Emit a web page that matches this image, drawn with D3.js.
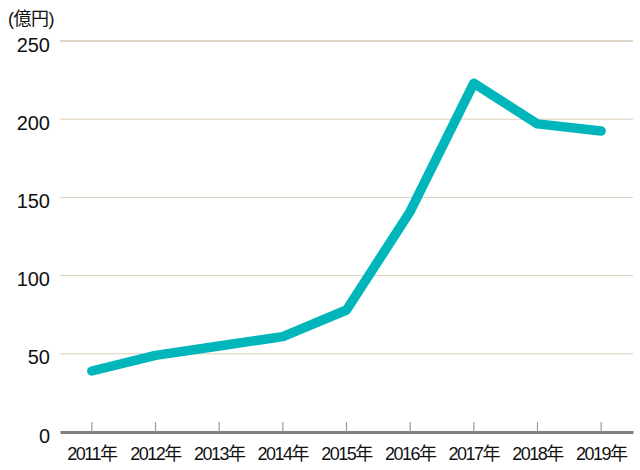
<!DOCTYPE html>
<html><head><meta charset="utf-8">
<script src="https://cdn.jsdelivr.net/npm/d3@7"></script>
<style>body{margin:0;background:#fff}svg{display:block}</style>
</head><body><svg id="c" width="640" height="470"></svg>
<script>
const years = ["2011年","2012年","2013年","2014年","2015年","2016年","2017年","2018年","2019年"];
const values = [39, 49, 55, 61, 78, 141, 223, 197, 192.5];
const yTicks = [0, 50, 100, 150, 200, 250];
const unitLabel = "(億円)";

const svg = d3.select("#c");
const x = d3.scaleBand().domain(years).range([60, 633]);
const y = d3.scaleLinear().domain([0, 250]).range([432, 41]);
const font = "'Liberation Sans', Arial, 'Noto Sans CJK JP', sans-serif";

// grid
svg.append("g").selectAll("line").data(yTicks.filter(d => d > 0)).join("line")
  .attr("x1", 60).attr("x2", 633)
  .attr("y1", d => y(d)).attr("y2", d => y(d))
  .attr("stroke", d => d === 250 ? "#bcab90" : "#dccfbb").attr("stroke-width", 1);

// y labels
svg.append("g").selectAll("text").data(yTicks).join("text")
  .attr("x", 50).attr("y", d => y(d)).attr("dy", "0.53em")
  .attr("text-anchor", "end").attr("font-family", font).attr("font-size", 20)
  .attr("fill", "#111").text(d => d);

svg.append("text").attr("x", 8).attr("y", 25).attr("font-family", font)
  .attr("font-size", 18).attr("fill", "#111").attr("letter-spacing", "-0.5px").text(unitLabel);

// x axis
const xAxis = d3.axisBottom(x).tickSize(-10).tickSizeOuter(0).tickPadding(15);
const gx = svg.append("g").attr("transform", "translate(0,432)").call(xAxis);
gx.select(".domain").attr("stroke", "#808080").attr("stroke-width", 3);
gx.selectAll(".tick line").attr("stroke", "#999").attr("stroke-width", 1.2);
gx.selectAll(".tick text").attr("font-family", font).attr("font-size", 18)
  .attr("fill", "#111").attr("letter-spacing", "-1.5px");

// line
const line = d3.line().x((d, i) => x(years[i]) + x.bandwidth() / 2).y(d => y(d));
svg.append("path").datum(values).attr("d", line)
  .attr("fill", "none").attr("stroke", "#00b6ba").attr("stroke-width", 9.5)
  .attr("stroke-linecap", "round").attr("stroke-linejoin", "round");
</script></body></html>
